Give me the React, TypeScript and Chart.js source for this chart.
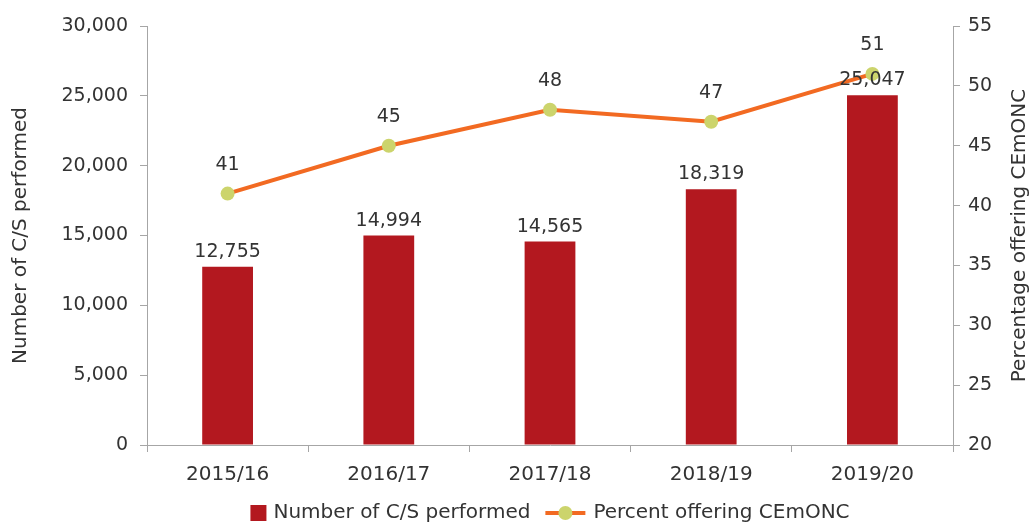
import React, { useEffect, useRef } from 'react';
import { Chart, registerables } from 'chart.js';

Chart.register(...registerables);

const categories = ['2015/16', '2016/17', '2017/18', '2018/19', '2019/20'];
const csPerformed = [12755, 14994, 14565, 18319, 25047];
const percentCEmONC = [41, 45, 48, 47, 51];

const barLabel = 'Number of C/S performed';
const lineLabel = 'Percent offering CEmONC';
const leftTitle = 'Number of C/S performed';
const rightTitle = 'Percentage offering CEmONC';

const leftMin = 0;
const leftMax = 30000;
const leftStep = 5000;
const rightMin = 20;
const rightMax = 55;
const rightStep = 5;

const FONT = "'DejaVu Sans', sans-serif";
const TEXT = '#333333';
const AXIS = '#a6a6a6';
const BAR = '#b3181f';
const LINE = '#f26a22';
const POINT = '#ccd46c';

const valueLabels = {
  id: 'valueLabels',
  afterDatasetsDraw(chart: any) {
    const ctx = chart.ctx;
    ctx.save();
    ctx.fillStyle = TEXT;
    ctx.font = `19px ${FONT}`;
    ctx.textAlign = 'center';
    ctx.textBaseline = 'alphabetic';
    chart.data.datasets.forEach((ds: any, i: number) => {
      const meta = chart.getDatasetMeta(i);
      meta.data.forEach((el: any, j: number) => {
        const v = ds.data[j];
        const off = meta.type === 'line' ? 24 : 10;
        ctx.fillText(Number(v).toLocaleString('en-US'), el.x, el.y - off);
      });
    });
    ctx.restore();
  },
};

const extras = {
  id: 'extras',
  afterDraw(chart: any) {
    const ctx = chart.ctx;
    const area = chart.chartArea;
    ctx.save();
    // right axis title, reading bottom-to-top
    ctx.fillStyle = TEXT;
    ctx.font = `20px ${FONT}`;
    ctx.textAlign = 'center';
    ctx.textBaseline = 'middle';
    ctx.translate(chart.width - 11, (area.top + area.bottom) / 2);
    ctx.rotate(-Math.PI / 2);
    ctx.fillText(rightTitle, 0, 0);
    ctx.restore();

    // legend
    ctx.save();
    ctx.font = `20px ${FONT}`;
    ctx.textBaseline = 'middle';
    ctx.textAlign = 'left';
    const sq = 16;
    const gap1 = 7;
    const between = 15;
    const lineW = 40;
    const gap2 = 8;
    const w1 = ctx.measureText(barLabel).width;
    const w2 = ctx.measureText(lineLabel).width;
    const total = sq + gap1 + w1 + between + lineW + gap2 + w2;
    let x = (area.left + area.right) / 2 - total / 2;
    const cy = 513;
    ctx.fillStyle = BAR;
    ctx.fillRect(x, cy - sq / 2, sq, sq);
    x += sq + gap1;
    ctx.fillStyle = TEXT;
    ctx.fillText(barLabel, x, cy);
    x += w1 + between;
    ctx.strokeStyle = LINE;
    ctx.lineWidth = 4;
    ctx.beginPath();
    ctx.moveTo(x, cy);
    ctx.lineTo(x + lineW, cy);
    ctx.stroke();
    ctx.fillStyle = POINT;
    ctx.beginPath();
    ctx.arc(x + lineW / 2, cy, 7, 0, Math.PI * 2);
    ctx.fill();
    x += lineW + gap2;
    ctx.fillStyle = TEXT;
    ctx.fillText(lineLabel, x, cy);
    ctx.restore();
  },
};

export default function App() {
  const ref = useRef<HTMLCanvasElement | null>(null);

  useEffect(() => {
    if (!ref.current) return;
    const chart = new Chart(ref.current, {
      type: 'bar',
      data: {
        labels: categories,
        datasets: [
          {
            type: 'line',
            label: lineLabel,
            data: percentCEmONC,
            yAxisID: 'y2',
            borderColor: LINE,
            backgroundColor: POINT,
            borderWidth: 4,
            pointRadius: 7,
            pointHoverRadius: 7,
            pointBackgroundColor: POINT,
            pointBorderColor: POINT,
            pointBorderWidth: 0,
            tension: 0,
            order: 1,
          } as any,
          {
            type: 'bar',
            label: barLabel,
            data: csPerformed,
            yAxisID: 'y',
            backgroundColor: BAR,
            barPercentage: 0.315,
            categoryPercentage: 1,
            order: 2,
          },
        ],
      },
      options: {
        animation: false,
        responsive: true,
        maintainAspectRatio: false,
        layout: { padding: { top: 26, left: 0, right: 0, bottom: 0 } },
        plugins: {
          legend: { display: false },
          tooltip: { enabled: false },
        },
        scales: {
          x: {
            grid: {
              offset: true,
              drawOnChartArea: false,
              drawTicks: true,
              tickLength: 7,
              color: AXIS,
            },
            border: { color: AXIS },
            ticks: { color: TEXT, font: { family: FONT, size: 20 }, padding: 11 },
            afterFit: (s: any) => {
              s.height = 80;
            },
          },
          y: {
            position: 'left',
            min: leftMin,
            max: leftMax,
            grid: { drawOnChartArea: false, drawTicks: true, tickLength: 7, color: AXIS },
            border: { color: AXIS },
            ticks: {
              stepSize: leftStep,
              color: TEXT,
              font: { family: FONT, size: 19 },
              padding: 12,
              callback: (v: any) => Number(v).toLocaleString('en-US'),
            },
            title: {
              display: true,
              text: leftTitle,
              color: TEXT,
              font: { family: FONT, size: 20 },
              padding: { top: 9, bottom: 4 },
            },
            afterFit: (s: any) => {
              s.width = 147;
            },
          },
          y2: {
            position: 'right',
            min: rightMin,
            max: rightMax,
            grid: { drawOnChartArea: false, drawTicks: true, tickLength: 7, color: AXIS },
            border: { color: AXIS },
            ticks: {
              stepSize: rightStep,
              color: TEXT,
              font: { family: FONT, size: 19 },
              padding: 8,
            },
            afterFit: (s: any) => {
              s.width = 78;
            },
          },
        },
      } as any,
      plugins: [valueLabels, extras],
    });
    return () => chart.destroy();
  }, []);

  return (
    <div style={{ position: 'absolute', left: 0, top: 0, width: 1031, height: 525, background: '#fff' }}>
      <canvas ref={ref} />
    </div>
  );
}
